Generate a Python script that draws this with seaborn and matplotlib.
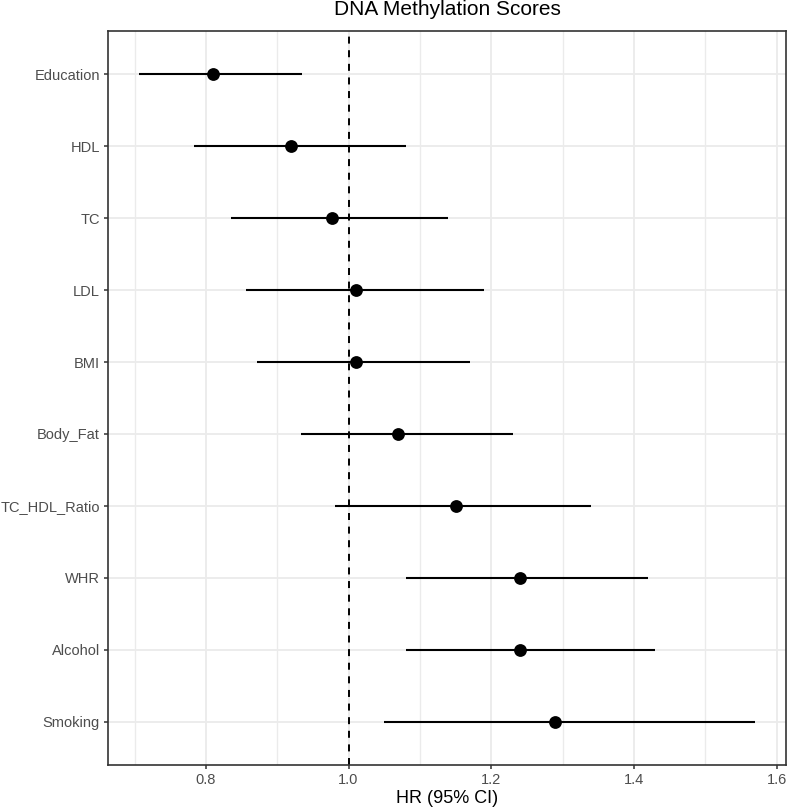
import matplotlib
matplotlib.use("Agg")
import matplotlib.pyplot as plt
import seaborn as sns
import pandas as pd
import numpy as np
from matplotlib.ticker import MultipleLocator

# forest plot data
traits = ["Education", "HDL", "TC", "LDL", "BMI", "Body_Fat",
          "TC_HDL_Ratio", "WHR", "Alcohol", "Smoking"]
hr = [0.81, 0.92, 0.977, 1.01, 1.01, 1.07, 1.15, 1.24, 1.24, 1.29]
ci_low = [0.706, 0.783, 0.835, 0.856, 0.872, 0.934, 0.981, 1.08, 1.08, 1.05]
ci_high = [0.935, 1.08, 1.14, 1.19, 1.17, 1.23, 1.34, 1.42, 1.43, 1.57]

df = pd.DataFrame({"trait": traits, "hr": hr, "lo": ci_low, "hi": ci_high})

sns.set_theme(style="white")
plt.rcParams["font.family"] = ["Liberation Sans", "DejaVu Sans"]

fig = plt.figure(figsize=(7.87, 8.10), dpi=100)
W, H = 787, 810
ax = fig.add_axes([108 / W, 1 - 765 / H, (786 - 108) / W, (765 - 31) / H])

# grid like theme_bw
ax.xaxis.set_major_locator(MultipleLocator(0.2))
ax.xaxis.set_minor_locator(MultipleLocator(0.1))
ax.grid(True, which="major", axis="both", color="#EBEBEB", lw=1.3, zorder=0)
ax.grid(True, which="minor", axis="x", color="#EBEBEB", lw=1.0, zorder=0)
ax.set_axisbelow(True)

ax.hlines(df["trait"], df["lo"], df["hi"], color="black", lw=1.5, zorder=2)
sns.scatterplot(data=df, x="hr", y="trait", color="black", s=85,
                edgecolor="black", linewidth=0, zorder=3, ax=ax)
ax.axvline(1.0, color="black", lw=1.4, linestyle=(0, (3.6, 3.4)), zorder=2.5)

lo, hi = min(ci_low), max(ci_high)
pad = 0.05 * (hi - lo)
ax.set_xlim(lo - pad, hi + pad)
ax.set_ylim(len(traits) - 0.4, -0.6)

for s in ax.spines.values():
    s.set_color("#333333")
    s.set_linewidth(1.2)

ax.tick_params(axis="both", which="major", length=3.2, width=1.1, color="#333333",
               labelcolor="#4D4D4D", labelsize=10.5, pad=2.5, bottom=True, left=True)
ax.tick_params(axis="x", which="minor", length=0)
ax.set_xticks(np.arange(0.8, 1.61, 0.2))
ax.set_xticklabels([f"{v:.1f}" for v in np.arange(0.8, 1.61, 0.2)])

ax.set_ylabel("")
ax.set_xlabel("HR (95% CI)", fontsize=13, color="black", labelpad=2)

fig.text(447 / W, 1 - 15 / H, "DNA Methylation Scores", fontsize=15,
         ha="center", va="baseline", color="black")

fig.savefig("out.png", dpi=100)
